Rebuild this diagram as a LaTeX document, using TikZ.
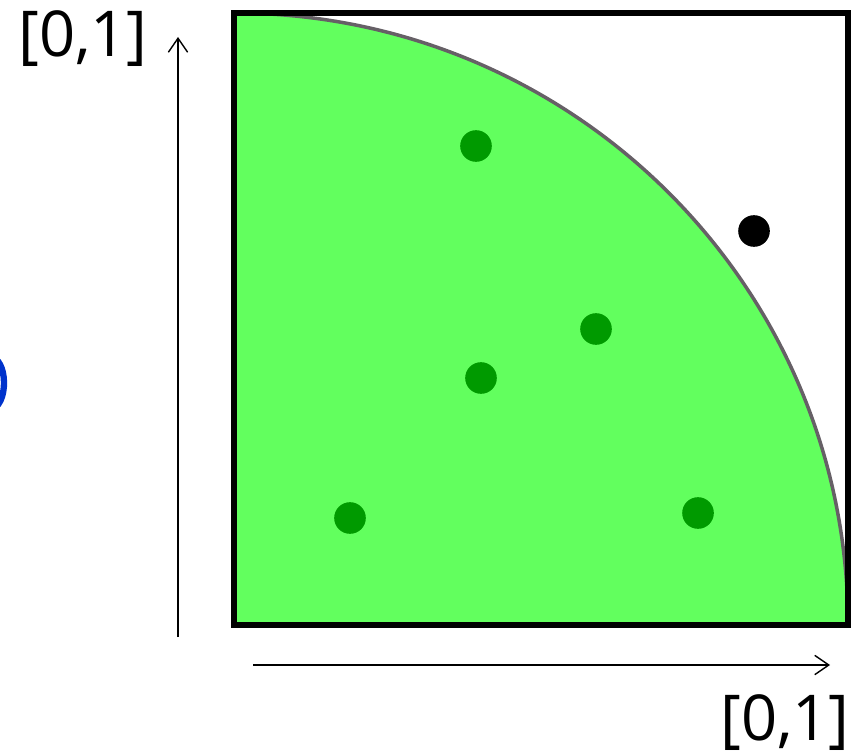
\documentclass[tikz,border=0pt]{standalone}
\usepackage{fontspec}
\setmainfont{Open Sans}
\usetikzlibrary{arrows.meta}
\definecolor{areagreen}{HTML}{62FF5E}
\definecolor{dotgreen}{HTML}{009A00}
\definecolor{arcgray}{HTML}{666066}
\definecolor{markblue}{HTML}{0033CC}
\tikzstyle{hit}=[circle,fill=dotgreen,inner sep=0pt,minimum size=18pt]
\tikzstyle{miss}=[circle,fill=black,inner sep=0pt,minimum size=18pt]
\tikzstyle{lbl}=[anchor=base,inner sep=0pt,font=\fontsize{36}{40}\selectfont]
\tikzstyle{axis}=[-{Straight Barb[length=8pt,width=11pt]},line width=0.8pt]

\begin{document}
\begin{tikzpicture}[x=0.02cm,y=-0.02cm]
\useasboundingbox (0,0) rectangle (864,753);
% cut-off bracket at the left edge
\begin{scope}
\clip (0,0) rectangle (864,753);
\draw[markblue,line width=3.6pt] (-8,383) ++(-70:12 and 25) arc[start angle=-70,end angle=70,x radius=12,y radius=25];
\end{scope}
% quarter disc in the unit square
\fill[areagreen] (234,625) -- (234,13) arc[start angle=90,end angle=0,x radius=614,y radius=-612] -- cycle;
\draw[arcgray,line width=2pt] (234,13) arc[start angle=90,end angle=0,x radius=614,y radius=-612];
\draw[line width=3.1pt] (234,13) rectangle (848,625);
% sample points
\node[hit] (p1) at (476,146) {};
\node[hit] (p2) at (596,329) {};
\node[hit] (p3) at (481,378) {};
\node[hit] (p4) at (350,518) {};
\node[hit] (p5) at (698,513) {};
\node[miss] (q1) at (754,231) {};
% axes
\coordinate (ybot) at (178,637);
\coordinate (ytop) at (178,37);
\coordinate (xlft) at (253,665);
\coordinate (xrgt) at (830,665);
\draw[axis] (ybot) -- (ytop);
\draw[axis] (xlft) -- (xrgt);
\node[lbl] (ylab) at (83,57) {[0,1]};
\node[lbl] (xlab) at (785,740) {[0,1]};
\end{tikzpicture}
\end{document}
